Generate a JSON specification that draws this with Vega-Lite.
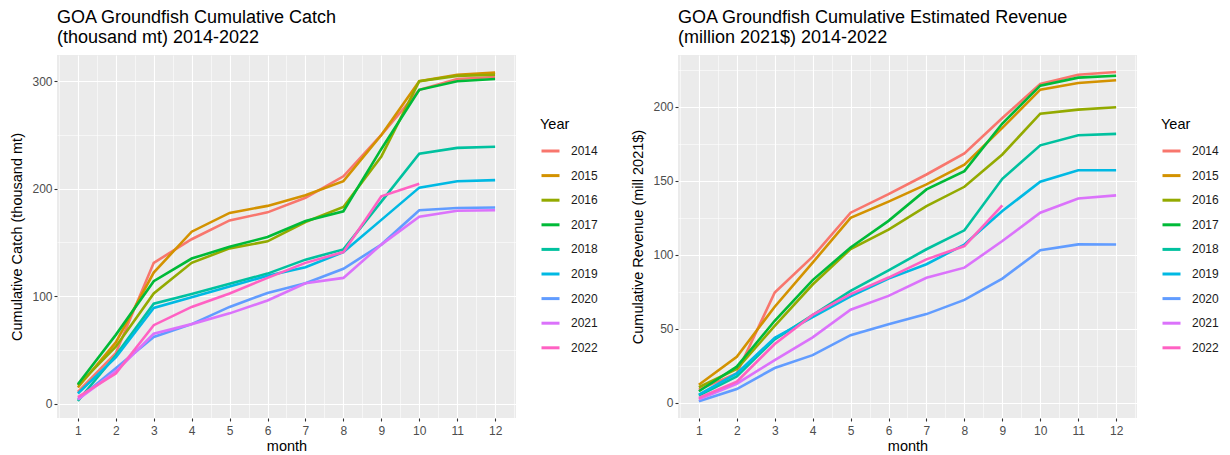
{
  "$schema": "https://vega.github.io/schema/vega-lite/v6.json",
  "padding": {"left": 9, "top": 9, "right": 5, "bottom": 3},
  "background": "white",
  "datasets": {
    "catch": [
      {"year": 2014, "month": 1, "value": 11}, {"year": 2014, "month": 2, "value": 47}, {"year": 2014, "month": 3, "value": 131}, {"year": 2014, "month": 4, "value": 153}, {"year": 2014, "month": 5, "value": 170.5}, {"year": 2014, "month": 6, "value": 178}, {"year": 2014, "month": 7, "value": 191.5}, {"year": 2014, "month": 8, "value": 211.5}, {"year": 2014, "month": 9, "value": 250}, {"year": 2014, "month": 10, "value": 292}, {"year": 2014, "month": 11, "value": 302}, {"year": 2014, "month": 12, "value": 304},
      {"year": 2015, "month": 1, "value": 15}, {"year": 2015, "month": 2, "value": 57}, {"year": 2015, "month": 3, "value": 122}, {"year": 2015, "month": 4, "value": 160}, {"year": 2015, "month": 5, "value": 177.5}, {"year": 2015, "month": 6, "value": 184}, {"year": 2015, "month": 7, "value": 194}, {"year": 2015, "month": 8, "value": 207}, {"year": 2015, "month": 9, "value": 250}, {"year": 2015, "month": 10, "value": 300}, {"year": 2015, "month": 11, "value": 306}, {"year": 2015, "month": 12, "value": 308},
      {"year": 2016, "month": 1, "value": 17}, {"year": 2016, "month": 2, "value": 53}, {"year": 2016, "month": 3, "value": 102.5}, {"year": 2016, "month": 4, "value": 131}, {"year": 2016, "month": 5, "value": 144.5}, {"year": 2016, "month": 6, "value": 151}, {"year": 2016, "month": 7, "value": 169}, {"year": 2016, "month": 8, "value": 183}, {"year": 2016, "month": 9, "value": 230}, {"year": 2016, "month": 10, "value": 300}, {"year": 2016, "month": 11, "value": 305}, {"year": 2016, "month": 12, "value": 306},
      {"year": 2017, "month": 1, "value": 18}, {"year": 2017, "month": 2, "value": 64}, {"year": 2017, "month": 3, "value": 114}, {"year": 2017, "month": 4, "value": 135}, {"year": 2017, "month": 5, "value": 146}, {"year": 2017, "month": 6, "value": 155}, {"year": 2017, "month": 7, "value": 170}, {"year": 2017, "month": 8, "value": 179}, {"year": 2017, "month": 9, "value": 237}, {"year": 2017, "month": 10, "value": 292}, {"year": 2017, "month": 11, "value": 300}, {"year": 2017, "month": 12, "value": 302},
      {"year": 2018, "month": 1, "value": 2.5}, {"year": 2018, "month": 2, "value": 45}, {"year": 2018, "month": 3, "value": 93}, {"year": 2018, "month": 4, "value": 102}, {"year": 2018, "month": 5, "value": 111.5}, {"year": 2018, "month": 6, "value": 121}, {"year": 2018, "month": 7, "value": 134}, {"year": 2018, "month": 8, "value": 143.5}, {"year": 2018, "month": 9, "value": 188}, {"year": 2018, "month": 10, "value": 232.6}, {"year": 2018, "month": 11, "value": 238}, {"year": 2018, "month": 12, "value": 239},
      {"year": 2019, "month": 1, "value": 9.5}, {"year": 2019, "month": 2, "value": 43}, {"year": 2019, "month": 3, "value": 89}, {"year": 2019, "month": 4, "value": 99}, {"year": 2019, "month": 5, "value": 109}, {"year": 2019, "month": 6, "value": 119}, {"year": 2019, "month": 7, "value": 127}, {"year": 2019, "month": 8, "value": 141}, {"year": 2019, "month": 9, "value": 171}, {"year": 2019, "month": 10, "value": 201}, {"year": 2019, "month": 11, "value": 207}, {"year": 2019, "month": 12, "value": 208},
      {"year": 2020, "month": 1, "value": 4}, {"year": 2020, "month": 2, "value": 33}, {"year": 2020, "month": 3, "value": 62}, {"year": 2020, "month": 4, "value": 74}, {"year": 2020, "month": 5, "value": 90}, {"year": 2020, "month": 6, "value": 103}, {"year": 2020, "month": 7, "value": 112}, {"year": 2020, "month": 8, "value": 125.5}, {"year": 2020, "month": 9, "value": 148}, {"year": 2020, "month": 10, "value": 180}, {"year": 2020, "month": 11, "value": 182}, {"year": 2020, "month": 12, "value": 182.5},
      {"year": 2021, "month": 1, "value": 4}, {"year": 2021, "month": 2, "value": 30}, {"year": 2021, "month": 3, "value": 65}, {"year": 2021, "month": 4, "value": 74}, {"year": 2021, "month": 5, "value": 84}, {"year": 2021, "month": 6, "value": 96}, {"year": 2021, "month": 7, "value": 112}, {"year": 2021, "month": 8, "value": 117}, {"year": 2021, "month": 9, "value": 148}, {"year": 2021, "month": 10, "value": 174}, {"year": 2021, "month": 11, "value": 179.5}, {"year": 2021, "month": 12, "value": 180},
      {"year": 2022, "month": 1, "value": 6}, {"year": 2022, "month": 2, "value": 28}, {"year": 2022, "month": 3, "value": 73}, {"year": 2022, "month": 4, "value": 90}, {"year": 2022, "month": 5, "value": 102.5}, {"year": 2022, "month": 6, "value": 117}, {"year": 2022, "month": 7, "value": 131}, {"year": 2022, "month": 8, "value": 141}, {"year": 2022, "month": 9, "value": 193}, {"year": 2022, "month": 10, "value": 204.7}
    ],
    "revenue": [
      {"year": 2014, "month": 1, "value": 9}, {"year": 2014, "month": 2, "value": 20}, {"year": 2014, "month": 3, "value": 74.6}, {"year": 2014, "month": 4, "value": 98.8}, {"year": 2014, "month": 5, "value": 128.5}, {"year": 2014, "month": 6, "value": 141}, {"year": 2014, "month": 7, "value": 154.3}, {"year": 2014, "month": 8, "value": 168.5}, {"year": 2014, "month": 9, "value": 192.5}, {"year": 2014, "month": 10, "value": 215.4}, {"year": 2014, "month": 11, "value": 221.7}, {"year": 2014, "month": 12, "value": 223.5},
      {"year": 2015, "month": 1, "value": 12.3}, {"year": 2015, "month": 2, "value": 31.2}, {"year": 2015, "month": 3, "value": 65}, {"year": 2015, "month": 4, "value": 94.8}, {"year": 2015, "month": 5, "value": 125}, {"year": 2015, "month": 6, "value": 136}, {"year": 2015, "month": 7, "value": 147.6}, {"year": 2015, "month": 8, "value": 161}, {"year": 2015, "month": 9, "value": 185.8}, {"year": 2015, "month": 10, "value": 211.6}, {"year": 2015, "month": 11, "value": 216.1}, {"year": 2015, "month": 12, "value": 217.9},
      {"year": 2016, "month": 1, "value": 10.6}, {"year": 2016, "month": 2, "value": 23}, {"year": 2016, "month": 3, "value": 52}, {"year": 2016, "month": 4, "value": 80}, {"year": 2016, "month": 5, "value": 104}, {"year": 2016, "month": 6, "value": 117}, {"year": 2016, "month": 7, "value": 133}, {"year": 2016, "month": 8, "value": 146}, {"year": 2016, "month": 9, "value": 167.8}, {"year": 2016, "month": 10, "value": 195.4}, {"year": 2016, "month": 11, "value": 198.1}, {"year": 2016, "month": 12, "value": 199.7},
      {"year": 2017, "month": 1, "value": 7.9}, {"year": 2017, "month": 2, "value": 24.5}, {"year": 2017, "month": 3, "value": 55.5}, {"year": 2017, "month": 4, "value": 83}, {"year": 2017, "month": 5, "value": 105}, {"year": 2017, "month": 6, "value": 123}, {"year": 2017, "month": 7, "value": 144.2}, {"year": 2017, "month": 8, "value": 156.6}, {"year": 2017, "month": 9, "value": 188.7}, {"year": 2017, "month": 10, "value": 214.3}, {"year": 2017, "month": 11, "value": 219.7}, {"year": 2017, "month": 12, "value": 221},
      {"year": 2018, "month": 1, "value": 5}, {"year": 2018, "month": 2, "value": 18}, {"year": 2018, "month": 3, "value": 43}, {"year": 2018, "month": 4, "value": 59.3}, {"year": 2018, "month": 5, "value": 75.7}, {"year": 2018, "month": 6, "value": 89.6}, {"year": 2018, "month": 7, "value": 103.8}, {"year": 2018, "month": 8, "value": 116.6}, {"year": 2018, "month": 9, "value": 151.4}, {"year": 2018, "month": 10, "value": 174}, {"year": 2018, "month": 11, "value": 180.8}, {"year": 2018, "month": 12, "value": 181.7},
      {"year": 2019, "month": 1, "value": 5.6}, {"year": 2019, "month": 2, "value": 20}, {"year": 2019, "month": 3, "value": 44}, {"year": 2019, "month": 4, "value": 58}, {"year": 2019, "month": 5, "value": 72}, {"year": 2019, "month": 6, "value": 84}, {"year": 2019, "month": 7, "value": 93.7}, {"year": 2019, "month": 8, "value": 107}, {"year": 2019, "month": 9, "value": 129.6}, {"year": 2019, "month": 10, "value": 149.4}, {"year": 2019, "month": 11, "value": 157.2}, {"year": 2019, "month": 12, "value": 157.2},
      {"year": 2020, "month": 1, "value": 1.1}, {"year": 2020, "month": 2, "value": 9.4}, {"year": 2020, "month": 3, "value": 23.6}, {"year": 2020, "month": 4, "value": 32.3}, {"year": 2020, "month": 5, "value": 45.8}, {"year": 2020, "month": 6, "value": 53.2}, {"year": 2020, "month": 7, "value": 60}, {"year": 2020, "month": 8, "value": 69.6}, {"year": 2020, "month": 9, "value": 84}, {"year": 2020, "month": 10, "value": 103.1}, {"year": 2020, "month": 11, "value": 107.1}, {"year": 2020, "month": 12, "value": 107},
      {"year": 2021, "month": 1, "value": 2.5}, {"year": 2021, "month": 2, "value": 13}, {"year": 2021, "month": 3, "value": 29}, {"year": 2021, "month": 4, "value": 44.3}, {"year": 2021, "month": 5, "value": 63}, {"year": 2021, "month": 6, "value": 72.3}, {"year": 2021, "month": 7, "value": 84.5}, {"year": 2021, "month": 8, "value": 91.4}, {"year": 2021, "month": 9, "value": 109.4}, {"year": 2021, "month": 10, "value": 128.5}, {"year": 2021, "month": 11, "value": 138.1}, {"year": 2021, "month": 12, "value": 140.2},
      {"year": 2022, "month": 1, "value": 3.4}, {"year": 2022, "month": 2, "value": 14.4}, {"year": 2022, "month": 3, "value": 39.8}, {"year": 2022, "month": 4, "value": 59.5}, {"year": 2022, "month": 5, "value": 73.5}, {"year": 2022, "month": 6, "value": 84.7}, {"year": 2022, "month": 7, "value": 97}, {"year": 2022, "month": 8, "value": 106}, {"year": 2022, "month": 9, "value": 133.4}
    ]
  },
  "spacing": 32,
  "resolve": {"scale": {"color": "independent"}, "legend": {"color": "independent"}},
  "hconcat": [
    {
      "title": {"text": ["GOA Groundfish Cumulative Catch", "\u00a0(thousand mt) 2014-2022"]},
      "width": 459,
      "height": 363,
      "data": {"name": "catch"},
      "mark": {"type": "line", "strokeWidth": 2.6, "clip": true},
      "encoding": {
        "x": {
          "field": "month", "type": "quantitative",
          "scale": {"domain": [0.45, 12.55], "nice": false, "zero": false},
          "axis": {
            "title": "month",
            "values": [0.5, 1, 1.5, 2, 2.5, 3, 3.5, 4, 4.5, 5, 5.5, 6, 6.5, 7, 7.5, 8, 8.5, 9, 9.5, 10, 10.5, 11, 11.5, 12, 12.5],
            "labelExpr": "datum.value % 1 === 0 ? format(datum.value, 'd') : ''",
            "gridWidth": {"condition": {"test": "datum.value % 1 !== 0", "value": 0.55}, "value": 1.1},
            "tickOpacity": {"condition": {"test": "datum.value % 1 !== 0", "value": 0}, "value": 1}
          }
        },
        "y": {
          "field": "value", "type": "quantitative",
          "scale": {"domain": [-13.35, 324.4], "nice": false, "zero": false},
          "axis": {
            "title": "Cumulative Catch (thousand mt)",
            "values": [0, 50, 100, 150, 200, 250, 300],
            "labelExpr": "datum.value % 100 === 0 ? datum.label : ''",
            "gridWidth": {"condition": {"test": "datum.value % 100 !== 0", "value": 0.55}, "value": 1.1},
            "tickOpacity": {"condition": {"test": "datum.value % 100 !== 0", "value": 0}, "value": 1}
          }
        },
        "color": {
          "field": "year", "type": "nominal",
          "scale": {"domain": [2014, 2015, 2016, 2017, 2018, 2019, 2020, 2021, 2022], "range": ["#F8766D", "#D39200", "#93AA00", "#00BA38", "#00C19F", "#00B9E3", "#619CFF", "#DB72FB", "#FF61C3"]},
          "legend": {"title": "Year", "orient": "none", "legendX": 483, "legendY": 63}
        },
        "detail": {"field": "year", "type": "nominal"}
      }
    },
    {
      "title": {"text": ["GOA Groundfish Cumulative Estimated Revenue", "\u00a0(million 2021$) 2014-2022"]},
      "width": 459,
      "height": 363,
      "data": {"name": "revenue"},
      "mark": {"type": "line", "strokeWidth": 2.6, "clip": true},
      "encoding": {
        "x": {
          "field": "month", "type": "quantitative",
          "scale": {"domain": [0.45, 12.55], "nice": false, "zero": false},
          "axis": {
            "title": "month",
            "values": [0.5, 1, 1.5, 2, 2.5, 3, 3.5, 4, 4.5, 5, 5.5, 6, 6.5, 7, 7.5, 8, 8.5, 9, 9.5, 10, 10.5, 11, 11.5, 12, 12.5],
            "labelExpr": "datum.value % 1 === 0 ? format(datum.value, 'd') : ''",
            "gridWidth": {"condition": {"test": "datum.value % 1 !== 0", "value": 0.55}, "value": 1.1},
            "tickOpacity": {"condition": {"test": "datum.value % 1 !== 0", "value": 0}, "value": 1}
          }
        },
        "y": {
          "field": "value", "type": "quantitative",
          "scale": {"domain": [-10.15, 235], "nice": false, "zero": false},
          "axis": {
            "title": "Cumulative Revenue (mill 2021$)",
            "values": [0, 25, 50, 75, 100, 125, 150, 175, 200, 225],
            "labelExpr": "datum.value % 50 === 0 ? datum.label : ''",
            "gridWidth": {"condition": {"test": "datum.value % 50 !== 0", "value": 0.55}, "value": 1.1},
            "tickOpacity": {"condition": {"test": "datum.value % 50 !== 0", "value": 0}, "value": 1}
          }
        },
        "color": {
          "field": "year", "type": "nominal",
          "scale": {"domain": [2014, 2015, 2016, 2017, 2018, 2019, 2020, 2021, 2022], "range": ["#F8766D", "#D39200", "#93AA00", "#00BA38", "#00C19F", "#00B9E3", "#619CFF", "#DB72FB", "#FF61C3"]},
          "legend": {"title": "Year", "orient": "none", "legendX": 483, "legendY": 63}
        },
        "detail": {"field": "year", "type": "nominal"}
      }
    }
  ],
  "config": {
    "font": "Liberation Sans",
    "view": {"fill": "#EBEBEB", "stroke": null},
    "axis": {
      "domain": false,
      "grid": true,
      "gridColor": "#FFFFFF",
      "tickColor": "#333333",
      "tickSize": 3,
      "tickWidth": 1.1,
      "labelFont": "Liberation Sans",
      "labelFontSize": 12,
      "labelColor": "#4D4D4D",
      "labelPadding": 2,
      "labelOverlap": false,
      "labelFlush": false,
      "titleFont": "Liberation Sans",
      "titleFontSize": 14.5,
      "titleFontWeight": "normal",
      "titleColor": "#000000"
    },
    "axisY": {"titlePadding": 7},
    "axisX": {"titlePadding": 3, "labelPadding": 4},
    "legend": {
      "titleFont": "Liberation Sans",
      "titleFontSize": 14.5,
      "titleFontWeight": "normal",
      "titleColor": "#000000",
      "titlePadding": 8,
      "labelFont": "Liberation Sans",
      "labelFontSize": 12,
      "labelColor": "#1A1A1A",
      "labelOffset": 10,
      "symbolType": "stroke",
      "symbolSize": 324,
      "symbolStrokeWidth": 3,
      "rowPadding": 7.6
    },
    "title": {
      "font": "Liberation Sans",
      "fontSize": 18,
      "fontWeight": "normal",
      "color": "#000000",
      "anchor": "start",
      "frame": "group",
      "lineHeight": 20,
      "offset": 8
    }
  }
}
